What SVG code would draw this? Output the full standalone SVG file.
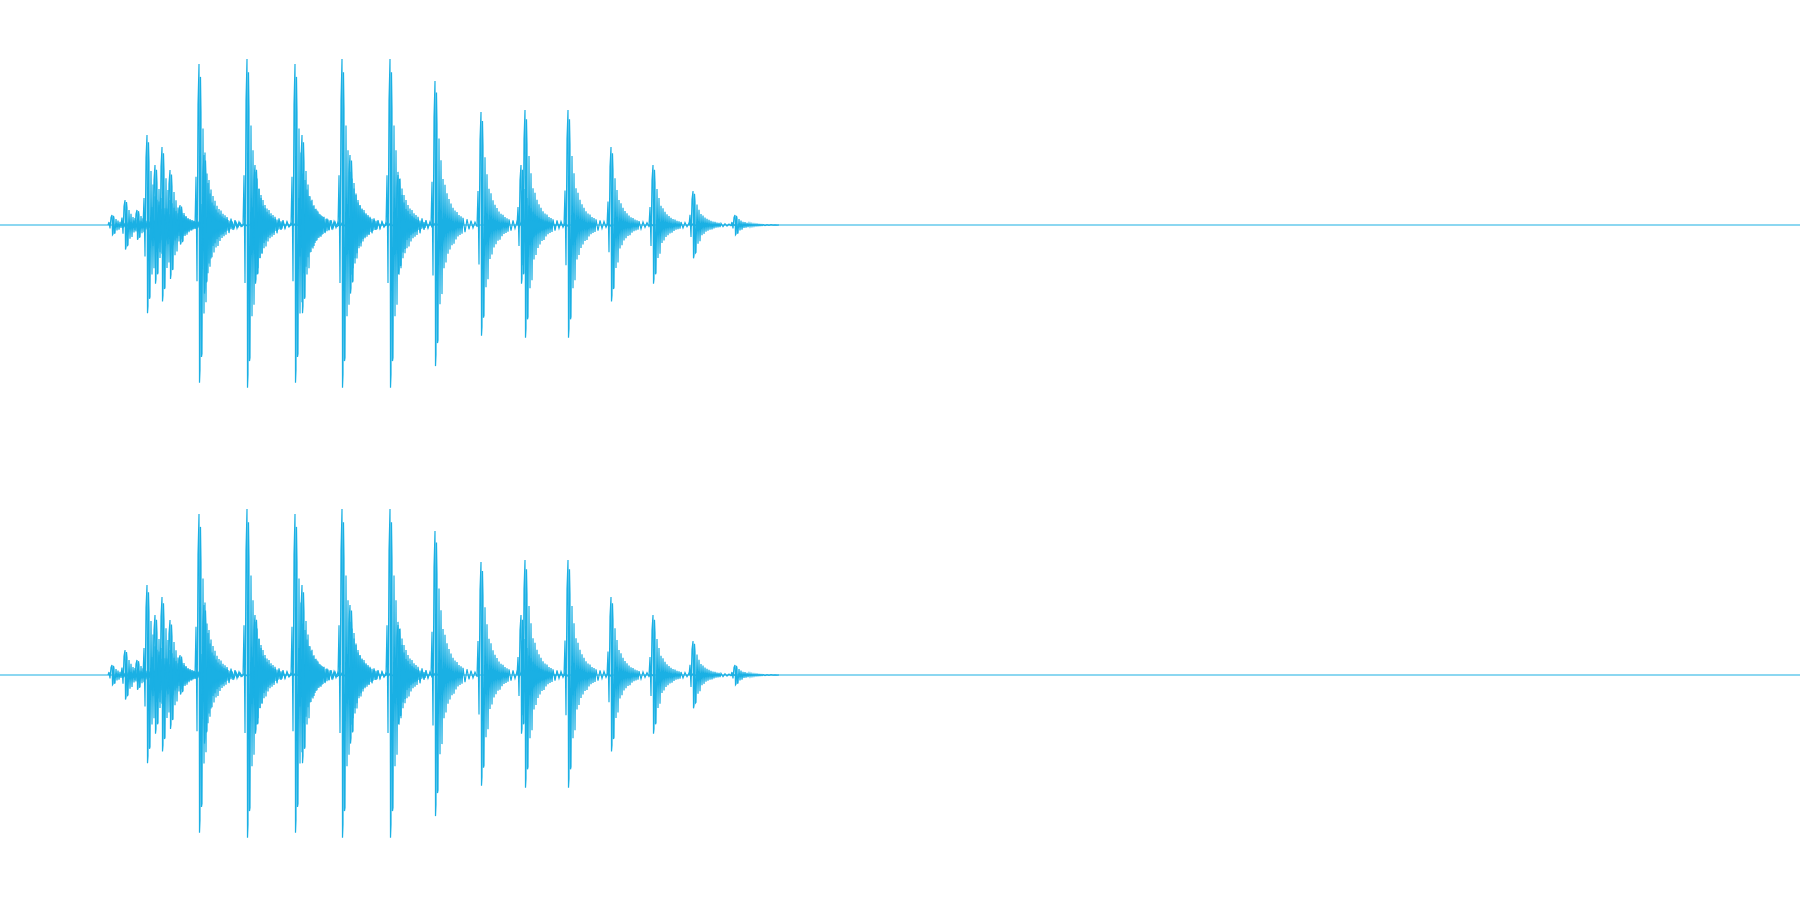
<svg xmlns="http://www.w3.org/2000/svg" xmlns:xlink="http://www.w3.org/1999/xlink" width="1800" height="900" viewBox="0 0 1800 900">
<style>.w{fill:none;stroke:#1ab0e4;stroke-width:1.2;vector-effect:non-scaling-stroke}</style>
<defs>
<path id="b" class="w" d="M-4,0 L-3,-30 L-2,35 L-1,-75 L0,-100 L0.5,98 L1,90 L1.5,-92 L2,-70 L2.5,82 L3,80 L4,-60 L5,55 L6,-45 L7,48 L8,-32 L9,30 L10,-28 L11,26 L12,-22 L13,20 L14,-18 L15,17 L16,-15 L17,14 L18,-12 L19,13 L20,-10 L21,10 L22,-9 L23,8 L24,-7 L25,7 L26,-6 L27,6 L28,-5 L30,5 L32,-4 L34,3 L36,-3 L38,2 L40,-2 L42,1 L44,0"/>
<g id="ch">
<line class="w" x1="0" y1="0" x2="1800" y2="0"/>
<use href="#b" transform="translate(112,0) scale(1,0.1)"/>
<use href="#b" transform="translate(125,0) scale(1,0.25)"/>
<use href="#b" transform="translate(137,0) scale(1,0.15)"/>
<use href="#b" transform="translate(147,0) scale(1,0.9)"/>
<use href="#b" transform="translate(155,0) scale(1,0.6)"/>
<use href="#b" transform="translate(162,0) scale(1,0.78)"/>
<use href="#b" transform="translate(170,0) scale(1,0.55)"/>
<use href="#b" transform="translate(180,0) scale(1,0.2)"/>
<use href="#b" transform="translate(199,0) scale(1,1.61)"/>
<use href="#b" transform="translate(204,0) scale(1,0.7)"/>
<use href="#b" transform="translate(247,0) scale(1,1.66)"/>
<use href="#b" transform="translate(255,0) scale(1,0.6)"/>
<use href="#b" transform="translate(295,0) scale(1,1.61)"/>
<use href="#b" transform="translate(302,0) scale(1,0.9)"/>
<use href="#b" transform="translate(342,0) scale(1,1.66)"/>
<use href="#b" transform="translate(350,0) scale(1,0.7)"/>
<use href="#b" transform="translate(390,0) scale(1,1.66)"/>
<use href="#b" transform="translate(398,0) scale(1,0.5)"/>
<use href="#b" transform="translate(435,0) scale(1,1.44)"/>
<use href="#b" transform="translate(481,0) scale(1,1.13)"/>
<use href="#b" transform="translate(525,0) scale(1,1.15)"/>
<use href="#b" transform="translate(521,0) scale(1,0.6)"/>
<use href="#b" transform="translate(568,0) scale(1,1.15)"/>
<use href="#b" transform="translate(611,0) scale(1,0.78)"/>
<use href="#b" transform="translate(653,0) scale(1,0.6)"/>
<use href="#b" transform="translate(693,0) scale(1,0.34)"/>
<use href="#b" transform="translate(735,0) scale(1,0.1)"/>
</g>
</defs>
<rect width="1800" height="900" fill="#fff"/>
<use href="#ch" transform="translate(0,225)"/>
<use href="#ch" transform="translate(0,675)"/>
</svg>
